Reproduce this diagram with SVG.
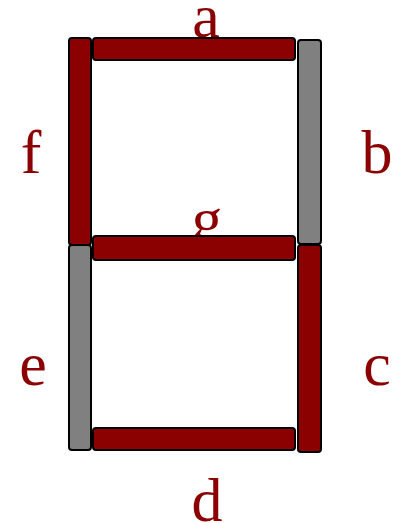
<svg xmlns="http://www.w3.org/2000/svg" width="393" height="523" viewBox="0 0 393 523">
<style>
.seg{stroke:#000;stroke-width:2;}
.on{fill:#8b0000;}
.off{fill:#808080;}
.lbl{font-family:"Liberation Serif","Times New Roman",serif;font-size:62px;fill:#8b0000;text-anchor:middle;}
</style>
<rect width="393" height="523" fill="#fff"/>
<g id="label-a"><text class="lbl" x="206" y="37">a</text></g>
<g id="label-g"><text class="lbl" x="207" y="240">g</text></g>
<g id="seg-a"><rect class="seg on" x="93" y="38" width="202" height="22" rx="3"/></g>
<g id="seg-f"><rect class="seg on" x="69" y="38" width="22" height="207" rx="3"/></g>
<g id="seg-e"><rect class="seg off" x="69" y="245" width="22" height="205" rx="3"/></g>
<g id="seg-b"><rect class="seg off" x="298" y="40" width="23" height="204" rx="3"/></g>
<g id="seg-c"><rect class="seg on" x="298" y="245" width="23" height="207" rx="3"/></g>
<g id="seg-g"><rect class="seg on" x="93" y="236" width="202" height="24" rx="3"/></g>
<g id="seg-d"><rect class="seg on" x="93" y="428" width="202" height="22" rx="3"/></g>
<g id="label-f"><text class="lbl" x="31" y="173">f</text></g>
<g id="label-b"><text class="lbl" x="377" y="173">b</text></g>
<g id="label-e"><text class="lbl" x="33" y="385">e</text></g>
<g id="label-c"><text class="lbl" x="377" y="385">c</text></g>
<g id="label-d"><text class="lbl" x="207" y="521">d</text></g>
</svg>
